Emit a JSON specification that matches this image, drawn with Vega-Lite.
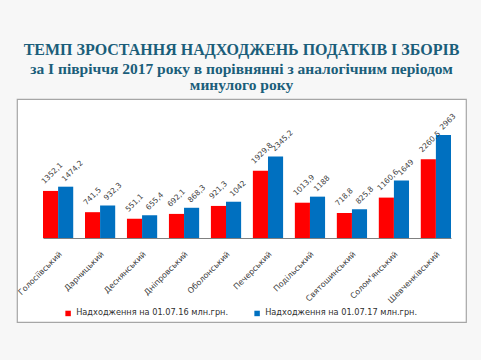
{
  "$schema": "https://vega.github.io/schema/vega-lite/v6.json",
  "width": 449,
  "height": 223,
  "autosize": {"type": "none"},
  "padding": {"left": 17, "top": 99, "right": 15, "bottom": 38},
  "background": "#F7F7F7",
  "view": {"fill": "#FFFFFF", "stroke": "#A6A6A6", "strokeWidth": 1.2},
  "title": {
    "text": "ТЕМП ЗРОСТАННЯ НАДХОДЖЕНЬ ПОДАТКІВ І ЗБОРІВ",
    "subtitle": ["за І півріччя 2017 року в порівнянні з аналогічним періодом", "минулого року"],
    "font": "Liberation Serif",
    "fontSize": 16,
    "fontWeight": "bold",
    "color": "#1B5E7A",
    "subtitleFont": "Liberation Serif",
    "subtitleFontSize": 15.5,
    "subtitleFontWeight": "bold",
    "subtitleColor": "#1B5E7A",
    "subtitlePadding": 4,
    "subtitleLineHeight": 16,
    "anchor": "middle",
    "offset": 6
  },
  "data": {
    "values": [
      {"district": "Голосіївський", "series": "Надходження на 01.07.16 млн.грн.", "value": 1352.1, "label": "1352,1"},
      {"district": "Голосіївський", "series": "Надходження на 01.07.17 млн.грн.", "value": 1474.2, "label": "1474,2"},
      {"district": "Дарницький", "series": "Надходження на 01.07.16 млн.грн.", "value": 741.5, "label": "741,5"},
      {"district": "Дарницький", "series": "Надходження на 01.07.17 млн.грн.", "value": 932.3, "label": "932,3"},
      {"district": "Деснянський", "series": "Надходження на 01.07.16 млн.грн.", "value": 551.1, "label": "551,1"},
      {"district": "Деснянський", "series": "Надходження на 01.07.17 млн.грн.", "value": 655.4, "label": "655,4"},
      {"district": "Дніпровський", "series": "Надходження на 01.07.16 млн.грн.", "value": 692.1, "label": "692,1"},
      {"district": "Дніпровський", "series": "Надходження на 01.07.17 млн.грн.", "value": 868.3, "label": "868,3"},
      {"district": "Оболонський", "series": "Надходження на 01.07.16 млн.грн.", "value": 921.3, "label": "921,3"},
      {"district": "Оболонський", "series": "Надходження на 01.07.17 млн.грн.", "value": 1042, "label": "1042"},
      {"district": "Печерський", "series": "Надходження на 01.07.16 млн.грн.", "value": 1929.8, "label": "1929,8"},
      {"district": "Печерський", "series": "Надходження на 01.07.17 млн.грн.", "value": 2345.2, "label": "2345,2"},
      {"district": "Подільський", "series": "Надходження на 01.07.16 млн.грн.", "value": 1013.9, "label": "1013,9"},
      {"district": "Подільський", "series": "Надходження на 01.07.17 млн.грн.", "value": 1188, "label": "1188"},
      {"district": "Святошинський", "series": "Надходження на 01.07.16 млн.грн.", "value": 718.8, "label": "718,8"},
      {"district": "Святошинський", "series": "Надходження на 01.07.17 млн.грн.", "value": 825.8, "label": "825,8"},
      {"district": "Солом'янський", "series": "Надходження на 01.07.16 млн.грн.", "value": 1160.6, "label": "1160,6"},
      {"district": "Солом'янський", "series": "Надходження на 01.07.17 млн.грн.", "value": 1649, "label": "1649"},
      {"district": "Шевченківський", "series": "Надходження на 01.07.16 млн.грн.", "value": 2260.5, "label": "2260,5"},
      {"district": "Шевченківський", "series": "Надходження на 01.07.17 млн.грн.", "value": 2963, "label": "2963"}
    ]
  },
  "encoding": {
    "x": {
      "field": "district",
      "type": "nominal",
      "sort": null,
      "scale": {"paddingInner": 0.28, "paddingOuter": 0, "range": [26, 434]},
      "axis": {
        "title": null,
        "labelAngle": -45,
        "labelFont": "DejaVu Sans",
        "labelFontSize": 8,
        "labelColor": "#404040",
        "ticks": false,
        "domainColor": "#808080",
        "labelPadding": 12,
        "offset": -84
      }
    },
    "xOffset": {"field": "series", "type": "nominal"},
    "y": {
      "field": "value",
      "type": "quantitative",
      "scale": {"domain": [-2414, 3994], "nice": false},
      "axis": null
    }
  },
  "layer": [
    {
      "mark": {"type": "bar"},
      "encoding": {
        "color": {
          "field": "series",
          "type": "nominal",
          "scale": {"range": ["#FF0000", "#0070C0"]},
          "legend": {
            "title": null,
            "orient": "none",
            "legendX": 47,
            "legendY": 210,
            "direction": "horizontal",
            "symbolType": "square",
            "symbolSize": 30,
            "labelFont": "DejaVu Sans",
            "labelFontSize": 8.2,
            "labelColor": "#303030",
            "columnPadding": 24,
            "labelLimit": 300
          }
        }
      }
    },
    {
      "transform": [{"filter": "datum.series === 'Надходження на 01.07.16 млн.грн.'"}],
      "mark": {"type": "text", "angle": -45, "align": "left", "baseline": "middle", "radius": 11, "theta": -0.75, "font": "DejaVu Sans", "fontSize": 7.5, "color": "#404040"},
      "encoding": {
        "text": {"field": "label"}
      }
    },
    {
      "transform": [{"filter": "datum.series === 'Надходження на 01.07.17 млн.грн.'"}],
      "mark": {"type": "text", "angle": -45, "align": "left", "baseline": "middle", "radius": 6.5, "theta": -0.35, "font": "DejaVu Sans", "fontSize": 7.5, "color": "#404040"},
      "encoding": {
        "text": {"field": "label"}
      }
    }
  ]
}
